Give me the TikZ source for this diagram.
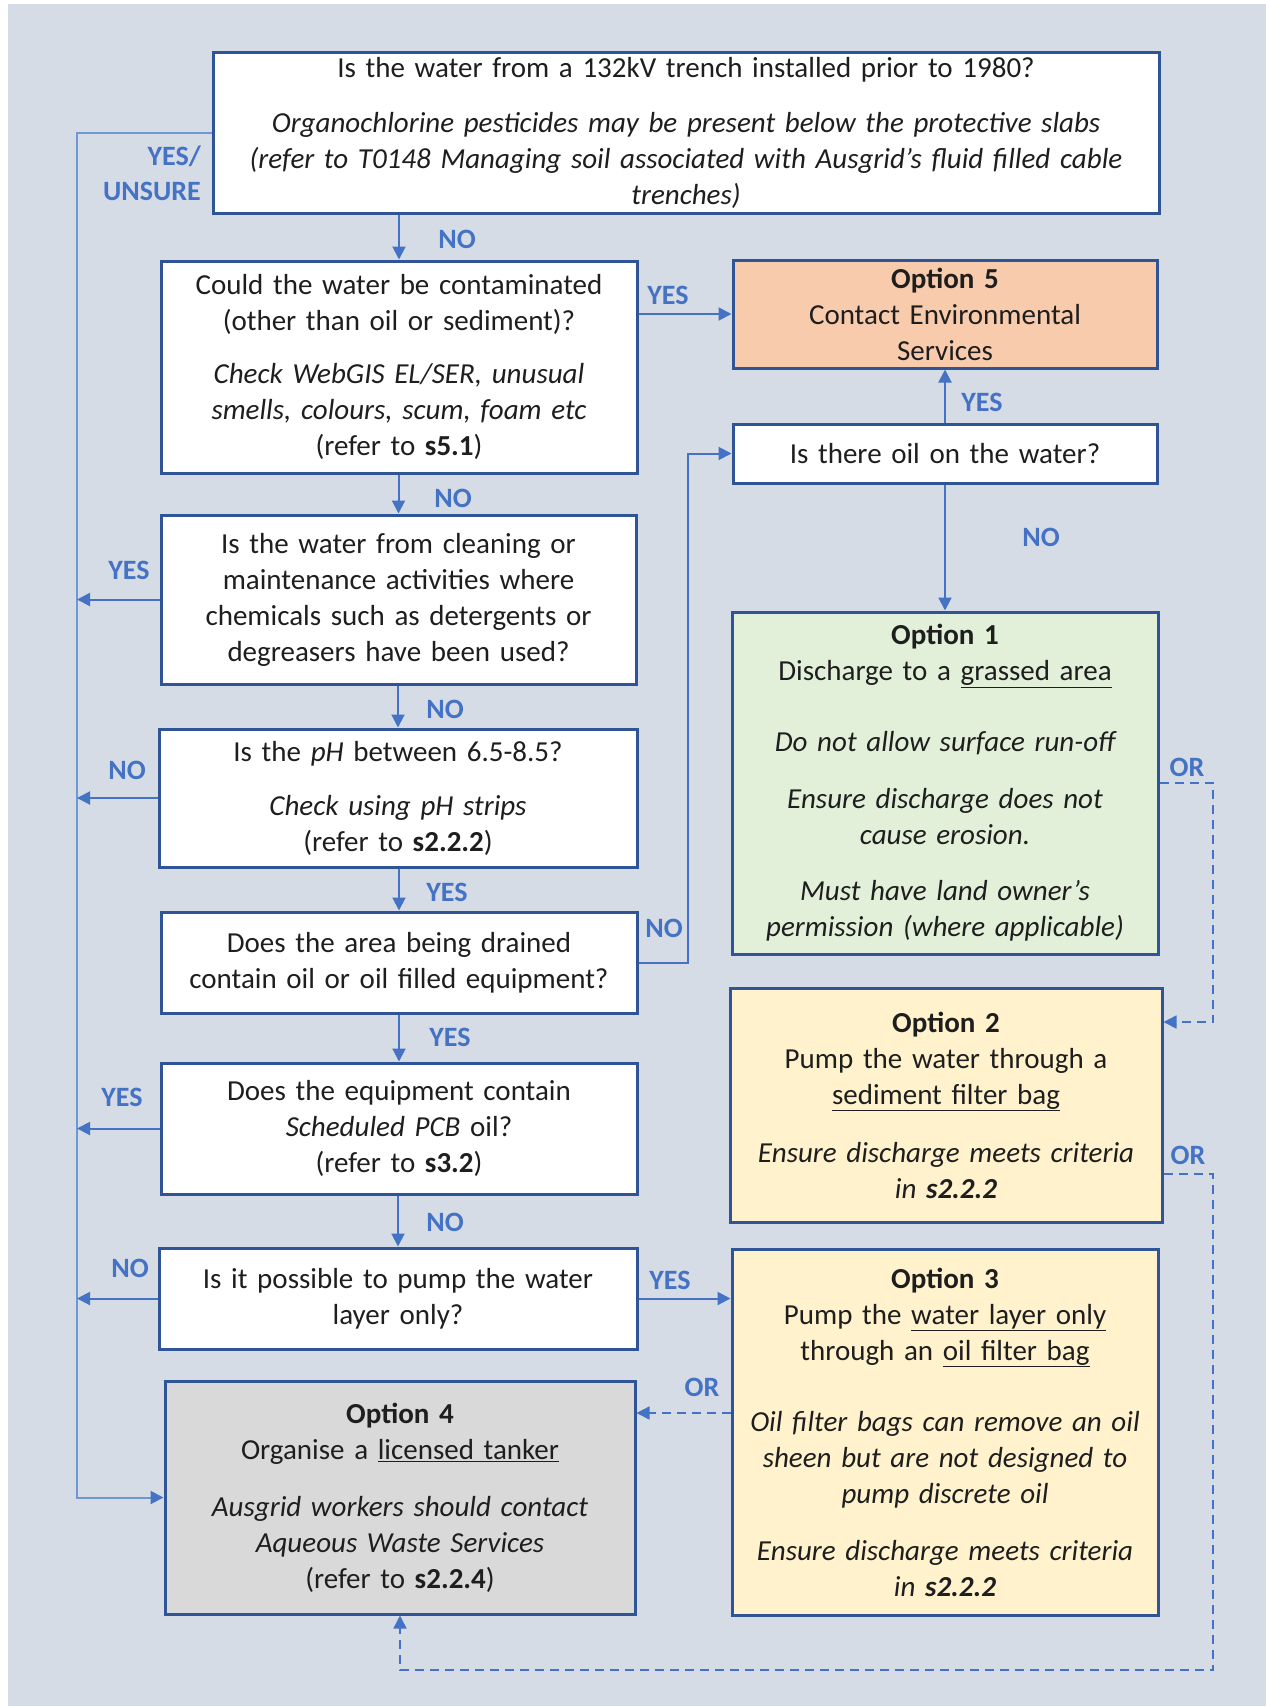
\documentclass[tikz,border=0pt]{standalone}
\usepackage{fontspec}
\setmainfont{Carlito}
\usetikzlibrary{arrows.meta}
\definecolor{bg}{HTML}{D6DCE5}
\definecolor{bord}{HTML}{2F5597}
\definecolor{acc}{HTML}{4472C4}
\definecolor{trunkc}{HTML}{6F97D6}
\definecolor{ofive}{HTML}{F8CBAD}
\definecolor{oone}{HTML}{E2F0D9}
\definecolor{otwo}{HTML}{FFF2CC}
\definecolor{ofour}{HTML}{D9D9D9}
\definecolor{txt}{HTML}{1E1E1E}
\begin{document}
\begin{tikzpicture}[x=1pt,y=-1pt,
  box/.style={draw=bord, line width=3pt, fill=white, inner sep=0pt, align=center,
    text=txt, font=\fontsize{29}{36}\selectfont},
  conn/.style={draw=acc, line width=2pt, -{Triangle[length=13pt,width=13pt]}},
  trunk/.style={draw=trunkc, line width=2pt, -{Triangle[length=13pt,width=13pt,color=acc]}},
  dconn/.style={draw=acc, line width=1.6pt, dash pattern=on 9pt off 6pt,
    -{Triangle[length=13pt,width=13pt]}},
  lbl/.style={text=acc, inner sep=0pt, font=\fontsize{28}{35}\selectfont\bfseries}
]
\useasboundingbox (0,0) rectangle (1266,1706);
\fill[white] (0,0) rectangle (1266,1706);
\fill[bg] (8,4) rectangle (1266,1706);

% ---------- boxes ----------
\node[box, minimum width=946pt, minimum height=161pt, text width=930pt] (top) at (686,132.5)
 {Is the water from a 132kV trench installed prior to 1980?\\[19pt]
  {\itshape Organochlorine pesticides may be present below the protective slabs\\
  (refer to T0148 Managing soil associated with Ausgrid’s fluid filled cable\\
  trenches)}};

\node[box, minimum width=476pt, minimum height=212pt, text width=460pt] (q2) at (399,367)
 {Could the water be contaminated\\(other than oil or sediment)?\\[17pt]
  {\itshape Check WebGIS EL/SER, unusual\\smells, colours, scum, foam etc}\\
  (refer to \textbf{s5.1})};

\node[box, minimum width=475pt, minimum height=169pt, text width=460pt] (q3) at (398.5,599.5)
 {Is the water from cleaning or\\maintenance activities where\\chemicals such as detergents or\\degreasers have been used?};

\node[box, minimum width=478pt, minimum height=138pt, text width=460pt] (q4) at (398,798)
 {Is the \textit{pH} between 6.5-8.5?\\[18pt]\textit{Check using pH strips}\\(refer to \textbf{s2.2.2})};

\node[box, minimum width=476pt, minimum height=101pt, text width=460pt] (q5) at (399,962.5)
 {Does the area being drained\\contain oil or oil filled equipment?};

\node[box, minimum width=476pt, minimum height=131pt, text width=460pt] (q6) at (399,1128.5)
 {Does the equipment contain\\\textit{Scheduled PCB} oil?\\(refer to \textbf{s3.2})};

\node[box, minimum width=478pt, minimum height=101pt, text width=460pt] (q7) at (398,1298.5)
 {Is it possible to pump the water\\layer only?};

\node[box, fill=ofour, minimum width=470pt, minimum height=233pt, text width=454pt] (opt4) at (400,1497.5)
 {\textbf{Option 4}\\Organise a \underline{licensed tanker}\\[21pt]
  {\itshape Ausgrid workers should contact\\Aqueous Waste Services}\\
  (refer to \textbf{s2.2.4})};

\node[box, fill=ofive, minimum width=424pt, minimum height=108pt, text width=410pt] (opt5) at (945,314)
 {\textbf{Option 5}\\Contact Environmental\\Services};

\node[box, minimum width=424pt, minimum height=59pt, text width=410pt] (oil) at (945,453.5)
 {Is there oil on the water?};

\node[box, fill=oone, minimum width=426pt, minimum height=342pt, text width=412pt] (opt1) at (945,783)
 {\textbf{Option 1}\\Discharge to a \underline{grassed area}\\[35pt]
  {\itshape Do not allow surface run-off\\[21pt]
  Ensure discharge does not\\cause erosion.\\[20pt]
  Must have land owner’s\\permission (where applicable)}};

\node[box, fill=otwo, minimum width=432pt, minimum height=234pt, text width=418pt] (opt2) at (946,1105)
 {\textbf{Option 2}\\Pump the water through a\\\underline{sediment filter bag}\\[22pt]
  {\itshape Ensure discharge meets criteria\\in \textbf{s2.2.2}}};

\node[box, fill=otwo, minimum width=426pt, minimum height=366pt, text width=412pt] (opt3) at (945,1432)
 {\textbf{Option 3}\\Pump the \underline{water layer only}\\through an \underline{oil filter bag}\\[35pt]
  {\itshape Oil filter bags can remove an oil\\sheen but are not designed to\\pump discrete oil\\[21pt]
  Ensure discharge meets criteria\\in \textbf{s2.2.2}}};

% ---------- helper coordinates ----------
\coordinate (trk) at (77,0);
\coordinate (nx) at (688,0);
\coordinate (rx) at (1213,0);
\coordinate (orA) at (0,1413);
\coordinate (orB) at (0,1022);
\coordinate (orC) at (0,1174);
\coordinate (botY) at (0,1670);

% ---------- connectors ----------
\draw[trunk] (top.west) -- (top.west -| trk) -- (opt4.west -| trk) -- (opt4.west);
\draw[conn] (q2.north |- top.south) -- (q2.north);
\draw[conn] (q2.east |- opt5.west) -- (opt5.west);
\draw[conn] (q3.north |- q2.south) -- (q3.north);
\draw[conn] (q3.west) -- (q3.west -| trk);
\draw[conn] (q4.north |- q3.south) -- (q4.north);
\draw[conn] (q4.west) -- (q4.west -| trk);
\draw[conn] (q5.north |- q4.south) -- (q5.north);
\draw[conn] (q5.east) -- (q5.east -| nx) -- (oil.west -| nx) -- (oil.west);
\draw[conn] (oil.north) -- (opt5.south);
\draw[conn] (oil.south) -- (opt1.north);
\draw[conn] (q6.north |- q5.south) -- (q6.north);
\draw[conn] (q6.west) -- (q6.west -| trk);
\draw[conn] (q7.north |- q6.south) -- (q7.north);
\draw[conn] (q7.west) -- (q7.west -| trk);
\draw[conn] (q7.east) -- (q7.east -| opt3.west);
\draw[dconn] (orA -| opt3.west) -- (orA -| opt4.east);
\draw[dconn] (opt1.east) -- (opt1.east -| rx) -- (orB -| rx) -- (orB -| opt2.east);
\draw[dconn] (orC -| opt2.east) -- (orC -| rx) -- (botY -| rx) -- (botY -| opt4.south) -- (opt4.south);

% ---------- labels ----------
\node[lbl, align=right, anchor=east] (lyu) at (201,173) {YES/\\UNSURE};
\node[lbl] (lno1) at (457,239) {NO};
\node[lbl] (lyes2) at (668,295) {YES};
\node[lbl] (lno2) at (453,498) {NO};
\node[lbl] (lyes3) at (129,570) {YES};
\node[lbl] (lno3) at (445,709) {NO};
\node[lbl] (lno4) at (127,770) {NO};
\node[lbl] (lyes4) at (447,892) {YES};
\node[lbl] (lno5) at (664,928) {NO};
\node[lbl] (lyes5) at (982,402) {YES};
\node[lbl] (lno6) at (1041,537) {NO};
\node[lbl] (lyes6) at (450,1037) {YES};
\node[lbl] (lyes7) at (122,1097) {YES};
\node[lbl] (lno7) at (445,1222) {NO};
\node[lbl] (lno8) at (130,1268) {NO};
\node[lbl] (lyes8) at (670,1280) {YES};
\node[lbl] (lor1) at (702,1387) {OR};
\node[lbl] (lor2) at (1187,767) {OR};
\node[lbl] (lor3) at (1188,1155) {OR};
\end{tikzpicture}
\end{document}
